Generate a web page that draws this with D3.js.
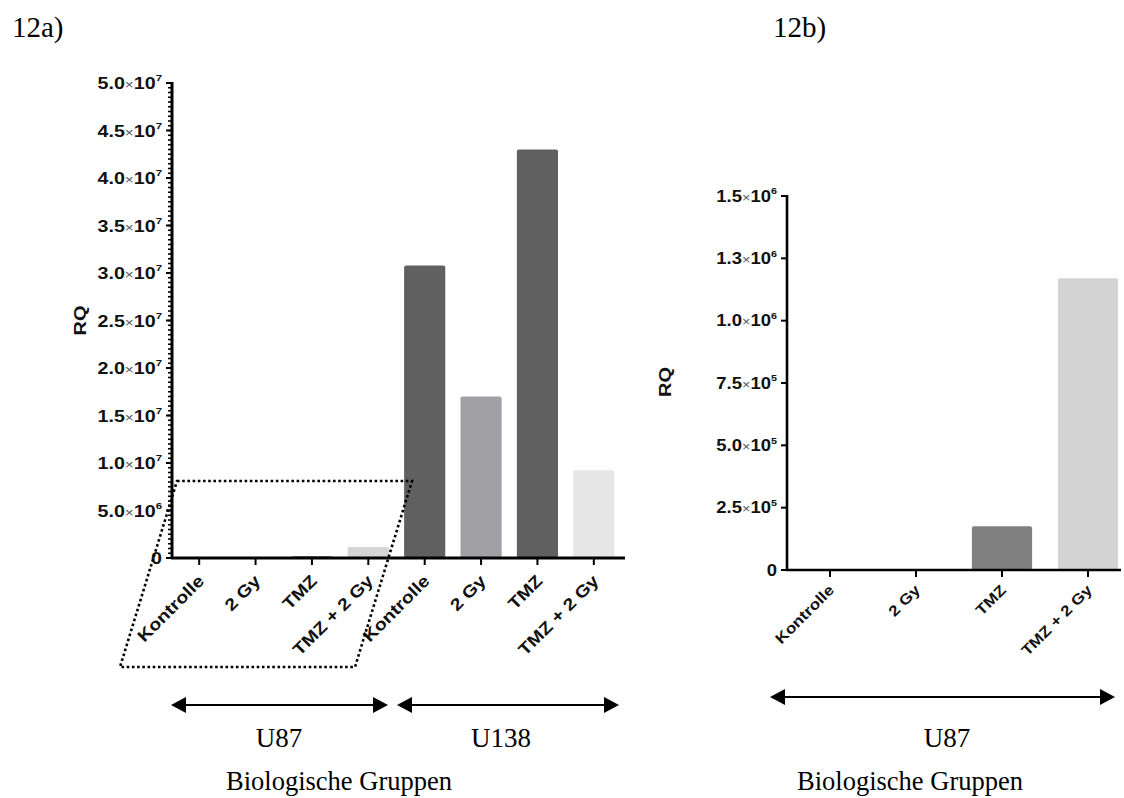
<!DOCTYPE html>
<html>
<head>
<meta charset="utf-8">
<script src="https://cdn.jsdelivr.net/npm/d3@7"></script>
<style>
  body { margin: 0; background: #fff; }
  svg { display: block; }
  .tick-lbl { font-family: "Liberation Sans", Arial, sans-serif; font-weight: bold; fill: #111; }
  .serif { font-family: "Liberation Serif", "Times New Roman", serif; fill: #000; }
</style>
</head>
<body>
<svg width="1124" height="798"></svg>
<script>
// categories and values
var categories = ["Kontrolle", "2 Gy", "TMZ", "TMZ + 2 Gy"];
var groupsA = ["U87", "U138"];
var valuesU87 = [1, 1, 175000, 1170000];
var valuesU138 = [30800000, 17000000, 43000000, 9250000];
var colorsA = ["#555555", "#a0a0a0", "#666666", "#d4d4d4", "#606060", "#a1a1a5", "#606060", "#e6e6e6"];
var colorsB = ["#555555", "#a0a0a0", "#808080", "#d3d3d3"];

var yTicksA = [0, 5e6, 1e7, 1.5e7, 2e7, 2.5e7, 3e7, 3.5e7, 4e7, 4.5e7, 5e7];
var yLabelsA = ["0", "5.0×10^6", "1.0×10^7", "1.5×10^7", "2.0×10^7", "2.5×10^7",
                "3.0×10^7", "3.5×10^7", "4.0×10^7", "4.5×10^7", "5.0×10^7"];
var yTicksB = [0, 2.5e5, 5e5, 7.5e5, 1e6, 1.25e6, 1.5e6];
var yLabelsB = ["0", "2.5×10^5", "5.0×10^5", "7.5×10^5", "1.0×10^6", "1.3×10^6", "1.5×10^6"];
var zoomTop = 8.1e6;

var svg = d3.select("svg");
var stretch = 1.17;   // the figure's lettering is a bit wider than Arial

// helper: write "a×10^b" as tspans
function sciLabel(sel, label) {
    var parts = label.split("×");
    sel.text(null);
    if (parts.length == 1) { sel.append("tspan").text(label); return; }
    var exp = parts[1].split("^");
    sel.append("tspan").text(parts[0]);
    sel.append("tspan").attr("font-weight", "normal").attr("font-size", "0.78em").attr("fill", "#555").text("×");
    sel.append("tspan").text(exp[0]);
    sel.append("tspan").attr("font-size", "0.58em").attr("dy", "-0.8em").text(exp[1]);
}

function yAxis(g, y, ticks, labels, x0, fs, lw) {
    g.append("line").attr("x1", x0).attr("x2", x0)
        .attr("y1", y.range()[1] - 1).attr("y2", y.range()[0] + 1)
        .attr("stroke", "#000").attr("stroke-width", lw);
    g.selectAll(".maj").data(ticks).enter().append("line")
        .attr("x1", x0 - 6).attr("x2", x0)
        .attr("y1", function (d) { return y(d); }).attr("y2", function (d) { return y(d); })
        .attr("stroke", "#000").attr("stroke-width", 2);
    g.selectAll(".lbl").data(ticks).enter().append("text")
        .attr("class", "tick-lbl")
        .attr("transform", function (d) { return "translate(" + (x0 - 10) + "," + y(d) + ") scale(" + stretch + ",1)"; })
        .attr("dy", "0.36em").attr("text-anchor", "end").attr("font-size", fs)
        .each(function (d, i) { sciLabel(d3.select(this), labels[i]); });
}

function xAxis(g, x, yBase, x0, x1, fs, lw, dx, dy) {
    g.append("line").attr("x1", x0).attr("x2", x1).attr("y1", yBase).attr("y2", yBase)
        .attr("stroke", "#000").attr("stroke-width", lw);
    g.selectAll(".xt").data(x.domain()).enter().append("line")
        .attr("x1", function (d) { return x(d) + x.bandwidth() / 2; })
        .attr("x2", function (d) { return x(d) + x.bandwidth() / 2; })
        .attr("y1", yBase).attr("y2", yBase + 7)
        .attr("stroke", "#000").attr("stroke-width", 2);
    g.selectAll(".xl").data(x.domain()).enter().append("text")
        .attr("class", "tick-lbl").attr("font-size", fs).attr("text-anchor", "end")
        .attr("transform", function (d) {
            return "translate(" + (x(d) + x.bandwidth() / 2 + dx) + "," + (yBase + dy) + ") rotate(-45) scale(" + stretch + ",1)";
        })
        .text(function (d) { return d.split("|")[0]; });
}

function arrow(g, x1, x2, y) {
    g.append("line").attr("x1", x1 + 12).attr("x2", x2 - 12).attr("y1", y).attr("y2", y)
        .attr("stroke", "#000").attr("stroke-width", 2);
    g.append("path").attr("d", "M" + x1 + "," + y + "l15,-8v16z").attr("fill", "#000");
    g.append("path").attr("d", "M" + x2 + "," + y + "l-15,-8v16z").attr("fill", "#000");
}

// ---------- 12a ----------
var keysA = [];
groupsA.forEach(function (gr) { categories.forEach(function (c) { keysA.push(c + "|" + gr); }); });
var valsA = valuesU87.concat(valuesU138);

var xa = d3.scaleBand().domain(keysA).range([171, 622]).paddingInner(0.27).paddingOuter(0.135);
var ya = d3.scaleLinear().domain([0, 5e7]).range([558, 83]);
var ga = svg.append("g");

// minor ticks
ga.selectAll(".minor").data(d3.range(0, 5e7 + 1, 5e5)).enter().append("line")
    .attr("x1", 168).attr("x2", 172)
    .attr("y1", function (d) { return ya(d); }).attr("y2", function (d) { return ya(d); })
    .attr("stroke", "#000").attr("stroke-width", 1.6);

ga.selectAll(".bar").data(valsA).enter().append("rect")
    .attr("x", function (d, i) { return xa(keysA[i]); })
    .attr("width", xa.bandwidth())
    .attr("y", function (d) { return ya(d); })
    .attr("height", function (d) { return ya(0) - ya(d); })
    .attr("rx", 2)
    .attr("fill", function (d, i) { return colorsA[i]; });

yAxis(ga, ya, yTicksA, yLabelsA, 172, 16.8, 3);
xAxis(ga, xa, 558, 171, 625, 16.8, 3, 6, 24);

ga.append("text").attr("class", "tick-lbl").attr("font-size", 17)
    .attr("transform", "translate(86," + ya(2.5e7) + ") rotate(-90) scale(" + stretch + ",1)")
    .attr("text-anchor", "middle").text("RQ");

// dotted zoom frame
var ft = ya(zoomTop), fb = 667, fl = 177, fr = 412, sk = 57;
ga.append("path")
    .attr("d", "M" + fl + "," + ft + "L" + fr + "," + ft + "L" + (fr - sk) + "," + fb + "L" + (fl - sk) + "," + fb + "Z")
    .attr("fill", "none").attr("stroke", "#000").attr("stroke-width", 2.6).attr("stroke-dasharray", "2.6,2.6");

arrow(ga, 171, 388, 705);
arrow(ga, 397, 619, 705);

ga.append("text").attr("class", "serif").attr("font-size", 29).attr("x", 12).attr("y", 37).text("12a)");
ga.append("text").attr("class", "serif").attr("font-size", 27).attr("x", 279).attr("y", 747).attr("text-anchor", "middle").text(groupsA[0]);
ga.append("text").attr("class", "serif").attr("font-size", 27).attr("x", 501).attr("y", 747).attr("text-anchor", "middle").text(groupsA[1]);
ga.append("text").attr("class", "serif").attr("font-size", 26.5).attr("x", 339).attr("y", 790).attr("text-anchor", "middle").text("Biologische Gruppen");

// ---------- 12b ----------
var xb = d3.scaleBand().domain(categories).range([787, 1131]).paddingInner(0.3).paddingOuter(0.15);
var yb = d3.scaleLinear().domain([0, 1.5e6]).range([570, 196]);
var gb = svg.append("g");

gb.selectAll(".bar").data(valuesU87).enter().append("rect")
    .attr("x", function (d, i) { return xb(categories[i]); })
    .attr("width", xb.bandwidth())
    .attr("y", function (d) { return yb(d); })
    .attr("height", function (d) { return yb(0) - yb(d); })
    .attr("rx", 2)
    .attr("fill", function (d, i) { return colorsB[i]; });

yAxis(gb, yb, yTicksB, yLabelsB, 787, 15.8, 2.6);
xAxis(gb, xb, 570, 786, 1121, 14.8, 2.6, 5, 21);

gb.append("text").attr("class", "tick-lbl").attr("font-size", 17)
    .attr("transform", "translate(671,382) rotate(-90) scale(" + stretch + ",1)")
    .attr("text-anchor", "middle").text("RQ");

arrow(gb, 770, 1115, 697);

gb.append("text").attr("class", "serif").attr("font-size", 29).attr("x", 773).attr("y", 37).text("12b)");
gb.append("text").attr("class", "serif").attr("font-size", 27).attr("x", 947).attr("y", 747).attr("text-anchor", "middle").text("U87");
gb.append("text").attr("class", "serif").attr("font-size", 26.5).attr("x", 910).attr("y", 790).attr("text-anchor", "middle").text("Biologische Gruppen");
</script>
</body>
</html>
